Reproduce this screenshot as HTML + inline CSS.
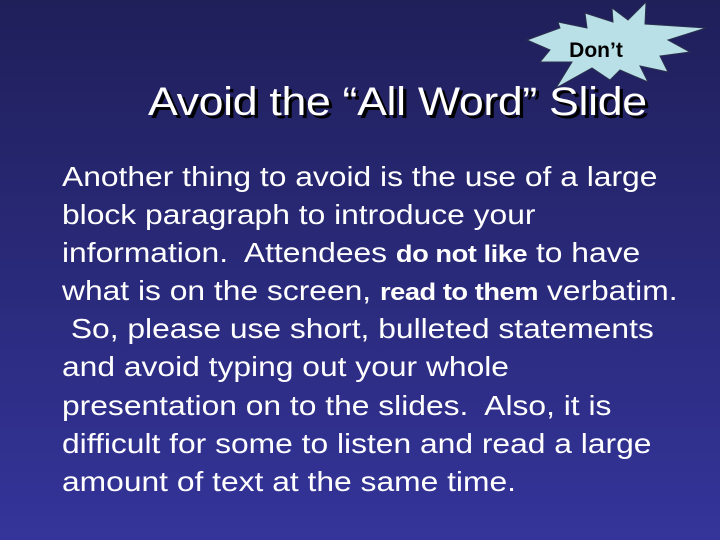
<!DOCTYPE html>
<html><head><meta charset="utf-8"><style>
html,body{margin:0;padding:0}
body{width:720px;height:540px;overflow:hidden;position:relative;background:linear-gradient(#1f1f5a,#34349a);font-family:"Liberation Sans",Arial,sans-serif;color:#fff}
#title{position:absolute;left:148px;top:80px;font-size:40px;white-space:nowrap;text-shadow:3px 3px 0 #000;letter-spacing:-0.3px;transform:scaleX(1.117);transform-origin:0 0}
#body{position:absolute;left:62px;top:158px;font-size:28px;line-height:38.1px;white-space:nowrap;transform:scaleX(1.135);transform-origin:0 0}
.b{font-family:"Liberation Sans Narrow","Liberation Sans",sans-serif;font-weight:bold;font-size:24px;letter-spacing:-0.4px;line-height:0}
#burst{position:absolute;left:0;top:0}
</style></head><body>
<svg id="burst" width="720" height="100">
<polygon points="527,40 560,28 558,22 587,28 585,13 613,22 612,8 628,20 646,2 645,24 706,28 668,40 690,52 660,56 668,72 640,66 648,82 620,70 610,80 592,68 556,88 572,62 540,62 550,50" fill="#b9e0e6" stroke="#2b3050" stroke-width="1"/>
<text x="596" y="57" text-anchor="middle" font-family="Liberation Sans Narrow,Liberation Sans,sans-serif" font-weight="bold" font-size="21" fill="#000">Don’t</text>
</svg>
<div id="title">Avoid the “All Word” Slide</div>
<div id="body">Another thing to avoid is the use of a large<br>block paragraph to introduce your<br>information.&nbsp; Attendees <span class="b">do not like</span> to have<br>what is on the screen, <span class="b">read to them</span> verbatim.<br>&nbsp;So, please use short, bulleted statements<br>and avoid typing out your whole<br>presentation on to the slides.&nbsp; Also, it is<br>difficult for some to listen and read a large<br>amount of text at the same time.</div>
</body></html>
